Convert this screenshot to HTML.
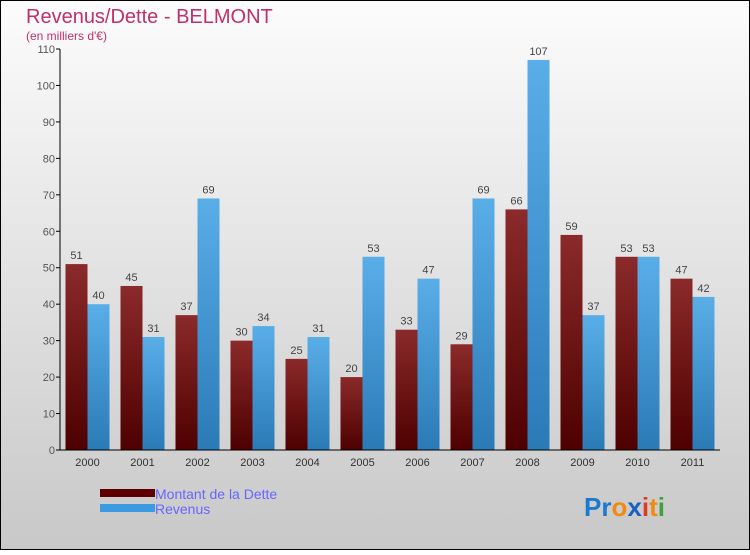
<!DOCTYPE html>
<html><head><meta charset="utf-8"><style>
body{margin:0}
svg text{font-family:"Liberation Sans",sans-serif}
</style></head><body>
<svg width="750" height="550" xmlns="http://www.w3.org/2000/svg">
<defs>
<linearGradient id="bg" x1="0" y1="0" x2="0" y2="1"><stop offset="0" stop-color="#fcfcfc"/><stop offset="1" stop-color="#c8c8c8"/></linearGradient>
<linearGradient id="gd" x1="0" y1="0" x2="0" y2="1"><stop offset="0" stop-color="#8b2a2a"/><stop offset="1" stop-color="#4e0000"/></linearGradient>
<linearGradient id="gr" x1="0" y1="0" x2="0" y2="1"><stop offset="0" stop-color="#5aaee8"/><stop offset="1" stop-color="#2a7ab6"/></linearGradient>
</defs>
<rect x="0.5" y="0.5" width="749" height="549" fill="url(#bg)" stroke="#000"/>
<text x="26" y="23" font-size="20" fill="#c0306a">Revenus/Dette - BELMONT</text>
<text x="26" y="40" font-size="12" fill="#c0306a">(en milliers d'€)</text>
<g id="yaxis"></g><g id="bars"></g><g id="xaxis"></g>
<rect x="100" y="489" width="55" height="8" fill="#5e0000"/>
<text x="155" y="499" font-size="14" fill="#6666ff">Montant de la Dette</text>
<rect x="100" y="504" width="55" height="8" fill="#3b9ae0"/>
<text x="155" y="514" font-size="14" fill="#6666ff">Revenus</text>
<text x="584" y="516" font-size="26" font-weight="bold"><tspan fill="#1a7ad0">Pr</tspan><tspan fill="#f08a10">o</tspan><tspan fill="#1a60c0">x</tspan><tspan fill="#e03a20">i</tspan><tspan fill="#f08a10">t</tspan><tspan fill="#40a040">i</tspan></text>
</svg>
<script>
const years=["2000","2001","2002","2003","2004","2005","2006","2007","2008","2009","2010","2011"];
const dette=[51,45,37,30,25,20,33,29,66,59,53,47];
const revenus=[40,31,69,34,31,53,47,69,107,37,53,42];
const yTicks=[0,10,20,30,40,50,60,70,80,90,100,110];
const NS="http://www.w3.org/2000/svg";
const y=v=>450-v*(401/110);
const gx=i=>60+5.5+i*55;
function mk(t,a,p){const e=document.createElementNS(NS,t);for(const k in a)e.setAttribute(k,a[k]);p.appendChild(e);return e;}
const ya=document.getElementById('yaxis'),ba=document.getElementById('bars'),xa=document.getElementById('xaxis');
yTicks.forEach(v=>{
 const l=mk('line',{x1:56,x2:60,y1:y(v),y2:y(v),stroke:'#000'},ya);
 
 
 const t=mk('text',{x:55,y:y(v)+4,'font-size':11,fill:'#555','text-anchor':'end'},ya);t.textContent=v;
 
 
});
years.forEach((yr,i)=>{
 const x0=gx(i);
 [[dette[i],'url(#gd)',x0,'bar-dette-'+yr],[revenus[i],'url(#gr)',x0+22,'bar-revenus-'+yr]].forEach(([v,f,x,n])=>{
  const r=mk('rect',{x:x,y:y(v),width:22,height:450-y(v),fill:f},ba);
  
  
  const t=mk('text',{x:x+11,y:y(v)-5,'font-size':11,fill:'#444','text-anchor':'middle'},ba);t.textContent=v;
  
  
 });
 const t=mk('text',{x:x0+22,y:466,'font-size':11,fill:'#333','text-anchor':'middle'},xa);t.textContent=yr;
 
 
});
const a1=mk('line',{x1:60,x2:60,y1:y(110),y2:450,stroke:'#000'},xa);


const a2=mk('line',{x1:60,x2:720,y1:450,y2:450,stroke:'#000'},xa);


</script>
</body></html>
